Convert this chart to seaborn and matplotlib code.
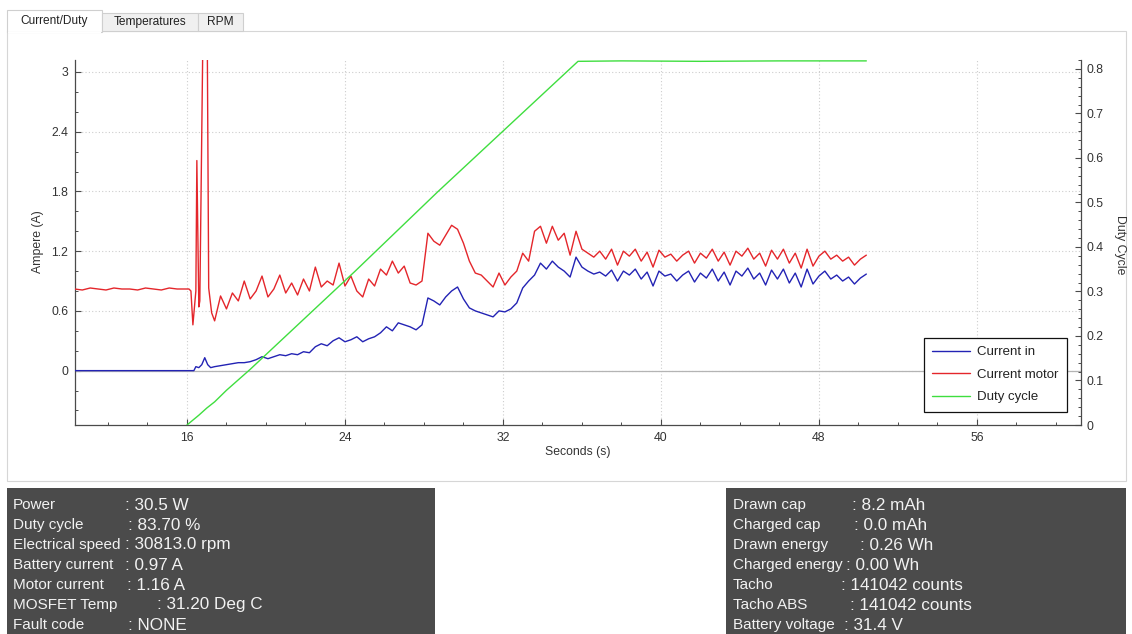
import matplotlib
matplotlib.use("Agg")
import matplotlib.pyplot as plt
from matplotlib.patches import Rectangle
from matplotlib.ticker import MultipleLocator
import pandas as pd
import seaborn as sns

W, H = 1132, 634

# ---- values ----
PRE_T = [10.3, 10.7, 11.1, 11.5, 11.9, 12.3, 12.7, 13.1, 13.5, 13.9, 14.3, 14.7, 15.1, 15.5, 15.9, 16.1]
PRE_MOTOR = [0.82, 0.81, 0.83, 0.82, 0.81, 0.83, 0.82, 0.82, 0.81, 0.83, 0.82, 0.81, 0.83, 0.82, 0.82, 0.82]
PRE_IN = [0.0] * 16

MOTOR_EVENT_T = [16.2, 16.3, 16.45, 16.5, 16.6, 16.65, 16.82, 17.02, 17.1, 17.25]
MOTOR_EVENT_A = [0.80, 0.46, 0.80, 2.11, 0.64, 0.70, 3.60, 3.60, 0.83, 0.58]
IN_EVENT_T = [16.35, 16.45, 16.6, 16.75, 16.9, 17.05, 17.2]
IN_EVENT_A = [0.0, 0.04, 0.03, 0.06, 0.13, 0.06, 0.03]

RUN_T = [
    17.4, 17.7, 18.0, 18.3, 18.6, 18.9, 19.2, 19.5, 19.8, 20.1,
    20.4, 20.7, 21.0, 21.3, 21.6, 21.9, 22.2, 22.5, 22.8, 23.1,
    23.4, 23.7, 24.0, 24.3, 24.6, 24.9, 25.2, 25.5, 25.8, 26.1,
    26.4, 26.7, 27.0, 27.3, 27.6, 27.9, 28.2, 28.5, 28.8, 29.1,
    29.4, 29.7, 30.0, 30.3, 30.6, 30.9, 31.2, 31.5, 31.8, 32.1,
    32.4, 32.7, 33.0, 33.3, 33.6, 33.9, 34.2, 34.5, 34.8, 35.1,
    35.4, 35.7, 36.0, 36.3, 36.6, 36.9, 37.2, 37.5, 37.8, 38.1,
    38.4, 38.7, 39.0, 39.3, 39.6, 39.9, 40.2, 40.5, 40.8, 41.1,
    41.4, 41.7, 42.0, 42.3, 42.6, 42.9, 43.2, 43.5, 43.8, 44.1,
    44.4, 44.7, 45.0, 45.3, 45.6, 45.9, 46.2, 46.5, 46.8, 47.1,
    47.4, 47.7, 48.0, 48.3, 48.6, 48.9, 49.2, 49.5, 49.8, 50.1,
    50.4,
]
RUN_MOTOR = [
    0.50, 0.75, 0.62, 0.78, 0.70, 0.90, 0.72, 0.80, 0.95, 0.74,
    0.82, 0.96, 0.78, 0.88, 0.76, 0.92, 0.80, 1.04, 0.84, 0.90,
    0.86, 1.08, 0.85, 0.95, 0.80, 0.74, 0.92, 0.85, 1.02, 0.96,
    1.10, 0.98, 1.05, 0.88, 0.86, 0.90, 1.38, 1.30, 1.26, 1.36,
    1.46, 1.42, 1.28, 1.10, 0.98, 0.96, 0.90, 0.84, 0.98, 0.86,
    0.94, 1.00, 1.18, 1.10, 1.40, 1.45, 1.28, 1.45, 1.31, 1.38,
    1.16, 1.40, 1.22, 1.18, 1.14, 1.20, 1.12, 1.22, 1.06, 1.20,
    1.15, 1.22, 1.10, 1.19, 1.04, 1.21, 1.14, 1.17, 1.10, 1.16,
    1.20, 1.08, 1.18, 1.13, 1.22, 1.10, 1.19, 1.06, 1.20, 1.15,
    1.23, 1.12, 1.18, 1.05, 1.21, 1.12, 1.22, 1.08, 1.18, 1.03,
    1.22, 1.05, 1.15, 1.20, 1.12, 1.16, 1.10, 1.14, 1.06, 1.12,
    1.16,
]
RUN_IN = [
    0.04, 0.05, 0.06, 0.07, 0.08, 0.08, 0.09, 0.11, 0.14, 0.12,
    0.14, 0.16, 0.15, 0.17, 0.16, 0.19, 0.18, 0.24, 0.27, 0.25,
    0.30, 0.33, 0.29, 0.31, 0.34, 0.29, 0.32, 0.34, 0.38, 0.44,
    0.40, 0.48, 0.46, 0.44, 0.41, 0.46, 0.73, 0.70, 0.66, 0.74,
    0.80, 0.84, 0.72, 0.63, 0.60, 0.58, 0.56, 0.54, 0.60, 0.59,
    0.62, 0.68, 0.83, 0.90, 0.96, 1.08, 1.02, 1.10, 1.04, 1.00,
    0.94, 1.14, 1.04, 1.00, 0.97, 0.99, 0.95, 1.01, 0.90, 1.00,
    0.96, 1.02, 0.92, 0.99, 0.85, 1.00, 0.95, 0.97, 0.90, 0.96,
    1.00, 0.89, 0.98, 0.93, 1.02, 0.90, 0.99, 0.86, 1.00, 0.95,
    1.03, 0.92, 0.98, 0.86, 1.01, 0.92, 1.02, 0.88, 0.98, 0.84,
    1.02, 0.87, 0.95, 1.00, 0.92, 0.96, 0.90, 0.94, 0.87, 0.93,
    0.97,
]

DUTY_T = [16.0, 16.6, 17.0, 17.4, 18.0, 19.2, 24.5, 28.7, 35.8, 38.0, 42.0, 46.0, 50.4]
DUTY_V = [0.0, 0.022, 0.038, 0.052, 0.078, 0.125, 0.345, 0.524, 0.817, 0.818, 0.817, 0.818, 0.818]

X_TICKS = [16, 24, 32, 40, 48, 56]
AMP_TICKS = [0, 0.6, 1.2, 1.8, 2.4, 3]
AMP_LABELS = ["0", "0.6", "1.2", "1.8", "2.4", "3"]
DUTY_TICKS = [0, 0.1, 0.2, 0.3, 0.4, 0.5, 0.6, 0.7, 0.8]
DUTY_LABELS = ["0", "0.1", "0.2", "0.3", "0.4", "0.5", "0.6", "0.7", "0.8"]

TABS = ["Current/Duty", "Temperatures", "RPM"]

LEFT_LABELS = ["Power", "Duty cycle", "Electrical speed", "Battery current",
               "Motor current", "MOSFET Temp", "Fault code"]
LEFT_VALUES = [": 30.5 W", ": 83.70 %", ": 30813.0 rpm", ": 0.97 A",
               ": 1.16 A", ": 31.20 Deg C", ": NONE"]
RIGHT_LABELS = ["Drawn cap", "Charged cap", "Drawn energy", "Charged energy",
                "Tacho", "Tacho ABS", "Battery voltage"]
RIGHT_VALUES = [": 8.2 mAh", ": 0.0 mAh", ": 0.26 Wh", ": 0.00 Wh",
                ": 141042 counts", ": 141042 counts", ": 31.4 V"]

# layout (pixels)
LEFT_COLON_X = [125, 128, 125, 125, 127, 157, 128]
RIGHT_COLON_X = [852, 854, 860, 846, 841, 850, 844]

BLUE = "#2323b4"
RED = "#e4262b"
GREEN = "#3fde3f"
AXIS_C = "#4a4a4a"

sns.set_theme(style="ticks")
plt.rcParams["font.family"] = ["Liberation Sans", "DejaVu Sans"]


def fx(x):
    return x / W


def fy(y):
    return 1 - y / H


def box(fig, x0, y0, x1, y1, **kw):
    kw.setdefault("zorder", -10)
    fig.add_artist(Rectangle((fx(x0), fy(y1)), (x1 - x0) / W, (y1 - y0) / H,
                             transform=fig.transFigure, **kw))


def main():
    fig = plt.figure(figsize=(W / 100, H / 100), dpi=100, facecolor="white")

    # widget chrome: tab bar + content frame
    box(fig, 7, 31, 1126, 481, facecolor="white", edgecolor="#d6d6d6", lw=0.8)
    tab_edges = [(7, 102), (102, 198), (198, 243)]
    for i, (name, (x0, x1)) in enumerate(zip(TABS, tab_edges)):
        top = 10 if i == 0 else 13
        box(fig, x0, top, x1, 32 if i == 0 else 31,
            facecolor="white" if i == 0 else "#f0f0f0", edgecolor="#cfcfcf", lw=0.8,
            zorder=-9)
        fig.text(fx((x0 + x1) / 2), fy(21 if i == 0 else 22), name, ha="center", va="center",
                 fontsize=8.6, color="#222222")
    box(fig, 8, 31.5, 101, 33, facecolor="white", edgecolor="none", zorder=-8)

    ax = fig.add_axes([fx(75), fy(425), (1081 - 75) / W, (425 - 60) / H])
    ax.set_facecolor("white")
    ax2 = ax.twinx()

    motor = pd.DataFrame({"t": PRE_T + MOTOR_EVENT_T + RUN_T,
                          "a": PRE_MOTOR + MOTOR_EVENT_A + RUN_MOTOR})
    cur_in = pd.DataFrame({"t": PRE_T + IN_EVENT_T + RUN_T,
                           "a": PRE_IN + IN_EVENT_A + RUN_IN})
    duty = pd.DataFrame({"t": DUTY_T, "d": DUTY_V})

    ax.axhline(0, color="#b4b4b4", lw=0.9, zorder=1)
    sns.lineplot(data=cur_in, x="t", y="a", ax=ax, color=BLUE, lw=1.0,
                 estimator=None, sort=False, label="Current in", zorder=3)
    sns.lineplot(data=motor, x="t", y="a", ax=ax, color=RED, lw=1.0,
                 estimator=None, sort=False, label="Current motor", zorder=3)
    sns.lineplot(data=duty, x="t", y="d", ax=ax2, color=GREEN, lw=1.0,
                 estimator=None, sort=False, label="Duty cycle", zorder=3)

    ax.set_xlim(10.33, 61.27)
    ax.set_ylim(-0.546, 3.12)
    ax2.set_ylim(0, 0.82)

    ax.set_xticks(X_TICKS)
    ax.set_xticklabels([str(v) for v in X_TICKS])
    ax.xaxis.set_minor_locator(MultipleLocator(2))
    ax.set_yticks(AMP_TICKS)
    ax.set_yticklabels(AMP_LABELS)
    ax.yaxis.set_minor_locator(MultipleLocator(0.2))
    ax2.set_yticks(DUTY_TICKS)
    ax2.set_yticklabels(DUTY_LABELS)
    ax2.yaxis.set_minor_locator(MultipleLocator(0.02))

    for a in (ax, ax2):
        a.set_xlabel("")
        a.set_ylabel("")
        a.tick_params(which="major", direction="in", length=4, width=0.8,
                      color=AXIS_C, labelcolor="#333333", labelsize=8.8, pad=5)
        a.tick_params(which="minor", direction="in", length=2.2, width=0.7, color=AXIS_C)
        a.spines["top"].set_visible(False)
        for s in a.spines.values():
            s.set_color(AXIS_C)
            s.set_linewidth(0.9)
    ax.spines["right"].set_visible(False)
    ax2.spines["left"].set_visible(False)
    ax2.spines["bottom"].set_visible(False)
    ax.tick_params(axis="y", which="both", right=False)
    ax2.tick_params(axis="y", pad=4)

    ax.grid(True, which="major", ls=(0, (1, 2)), color="#cdcdcd", lw=0.8)
    ax.set_axisbelow(True)

    h1, l1 = ax.get_legend_handles_labels()
    h2, l2 = ax2.get_legend_handles_labels()
    if ax.get_legend() is not None:
        ax.get_legend().remove()
    leg = ax2.legend(h1 + h2, l1 + l2, loc="upper right",
                     bbox_to_anchor=(fx(1067), fy(338)), bbox_transform=fig.transFigure,
                     borderaxespad=0, fancybox=False, framealpha=1, fontsize=9.5,
                     handlelength=2.9, handletextpad=0.55, labelspacing=0.78,
                     borderpad=0.62)
    leg.get_frame().set_edgecolor("#111111")
    leg.get_frame().set_linewidth(0.9)
    for t in leg.get_texts():
        t.set_color("#222222")

    fig.text(fx(38), fy(242), "Ampere (A)", rotation=90, ha="center", va="center",
             fontsize=8.8, color="#333333")
    fig.text(fx(578), fy(452), "Seconds (s)", ha="center", va="center",
             fontsize=8.8, color="#333333")
    fig.text(fx(1120), fy(245), "Duty Cycle", rotation=270, ha="center", va="center",
             fontsize=8.8, color="#333333")

    # status panels
    panel_c = "#4b4b4b"
    txt_c = "#f2f2f2"
    box(fig, 7, 488, 435, 640, facecolor=panel_c, edgecolor="none")
    box(fig, 726, 488, 1126, 640, facecolor=panel_c, edgecolor="none")
    for i in range(7):
        y = fy(505 + 20 * i)
        fig.text(fx(13), y, LEFT_LABELS[i], fontsize=11, color=txt_c, va="center")
        fig.text(fx(LEFT_COLON_X[i]), y, LEFT_VALUES[i], fontsize=12.3, color=txt_c, va="center")
        fig.text(fx(733), y, RIGHT_LABELS[i], fontsize=11, color=txt_c, va="center")
        fig.text(fx(RIGHT_COLON_X[i]), y, RIGHT_VALUES[i], fontsize=12.3, color=txt_c, va="center")

    fig.savefig("out.png", dpi=100, facecolor="white")
    plt.close(fig)


if __name__ == "__main__":
    main()
